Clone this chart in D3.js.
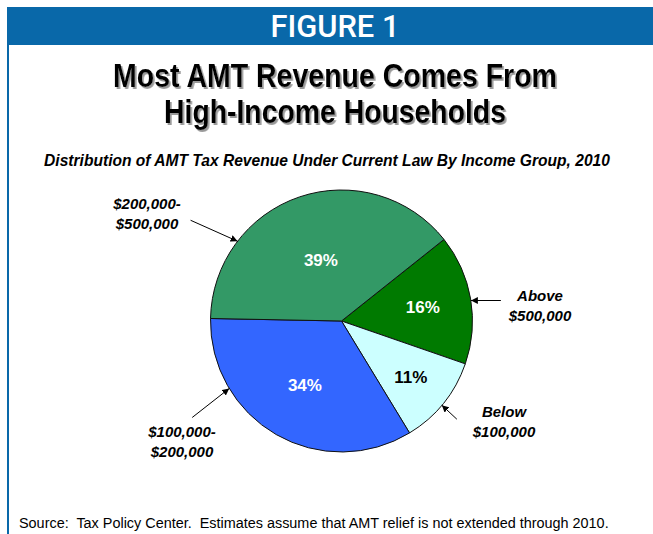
<!DOCTYPE html>
<html>
<head>
<meta charset="utf-8">
<script src="https://cdn.jsdelivr.net/npm/d3@7"></script>
<style>
  html, body { margin: 0; padding: 0; background: #fff; }
  svg { display: block; }
</style>
</head>
<body>
<svg id="chart" width="653" height="534"></svg>
<script>
// Income groups, in clockwise order starting at the upper right
const groups = ["Above $500,000", "Below $100,000", "$100,000-$200,000", "$200,000-$500,000"];
const shares = [16, 11, 34, 39];
const sliceColors = ["#007a00", "#ccffff", "#3366ff", "#339966"];
const pctColors = ["#ffffff", "#000000", "#ffffff", "#ffffff"];
// Callout label lines per group
const labelLines = [["Above", "$500,000"], ["Below", "$100,000"], ["$100,000-", "$200,000"], ["$200,000-", "$500,000"]];

const figureLabel = "FIGURE 1";
const titleLines = ["Most AMT Revenue Comes From", "High-Income Households"];
const subtitle = "Distribution of AMT Tax Revenue Under Current Law By Income Group, 2010";
const sourceNote = "Source:  Tax Policy Center.  Estimates assume that AMT relief is not extended through 2010.";

const svg = d3.select("#chart");
const W = 653, H = 534;
const blue = "#0968a9";
const sans = "Arial, 'Liberation Sans', sans-serif";

// Fit a text element to a target width by tuning its font size
function fitWidth(sel, target) {
  const node = sel.node();
  const fs = parseFloat(sel.attr("font-size"));
  const w = node.getComputedTextLength();
  if (w > 0) sel.attr("font-size", (fs * target / w).toFixed(2));
  return sel;
}
// Squeeze a text horizontally (condensed look) to a target width, keeping its height
function condense(g, sel, cx, y, target) {
  const w = sel.node().getComputedTextLength();
  const sx = w > 0 ? Math.min(1, target / w) : 1;
  g.attr("transform", `translate(${cx},${y}) scale(${sx},1)`);
}

const defs = svg.append("defs");
const shadow = defs.append("filter").attr("id", "shadow")
  .attr("x", "-5%").attr("y", "-20%").attr("width", "110%").attr("height", "150%");
shadow.append("feDropShadow")
  .attr("dx", 2).attr("dy", 2).attr("stdDeviation", 0.6)
  .attr("flood-color", "#808080").attr("flood-opacity", 0.8);

// Header band and left rule
svg.append("rect").attr("x", 7).attr("y", 7).attr("width", W - 7).attr("height", 38).attr("fill", blue);
svg.append("rect").attr("x", 7).attr("y", 44).attr("width", 2).attr("height", H - 44).attr("fill", blue);

const hg = svg.append("g");
const ht = hg.append("text")
  .attr("text-anchor", "middle")
  .attr("font-family", "Roboto, 'Liberation Sans', sans-serif")
  .attr("font-weight", 500)
  .attr("font-size", 31)
  .attr("fill", "#fff")
  .text(figureLabel);
condense(hg, ht, 335, 37, 129);

// Title, bold condensed with a drop shadow
const titleY = [87, 123];
const titleW = [444, 342];
titleLines.forEach((t, i) => {
  const tg = svg.append("g");
  const tt = tg.append("text")
    .attr("text-anchor", "middle")
    .attr("font-family", sans)
    .attr("font-weight", "bold")
    .attr("font-size", 33)
    .attr("fill", "#000")
    .attr("filter", "url(#shadow)")
    .text(t);
  condense(tg, tt, 335, titleY[i], titleW[i]);
});

fitWidth(svg.append("text")
  .attr("x", 327).attr("y", 166)
  .attr("text-anchor", "middle")
  .attr("font-family", sans)
  .attr("font-weight", "bold").attr("font-style", "italic")
  .attr("font-size", 14)
  .attr("fill", "#000")
  .text(subtitle), 566);

// Pie
const cx = 341.5, cy = 321, R = 131;
const startA = 51.5 * Math.PI / 180;
const pie = d3.pie().sort(null).value(d => d)
  .startAngle(startA).endAngle(startA + 2 * Math.PI);
const arcs = pie(shares);
const arc = d3.arc().innerRadius(0).outerRadius(R);
const g = svg.append("g").attr("transform", `translate(${cx},${cy})`);

g.selectAll("path.slice").data(arcs).join("path")
  .attr("class", "slice")
  .attr("d", arc)
  .attr("fill", (d, i) => sliceColors[i])
  .attr("stroke", "#111")
  .attr("stroke-width", 1)
  .attr("stroke-linejoin", "round");

// Percentage labels placed along each slice's bisector
const pctRadius = [0.63, 0.68, 0.56, 0.49];
g.selectAll("text.pct").data(arcs).join("text")
  .attr("class", "pct")
  .attr("transform", (d, i) => {
    const a = (d.startAngle + d.endAngle) / 2;
    const r = R * pctRadius[i];
    return `translate(${r * Math.sin(a)},${-r * Math.cos(a) + 6})`;
  })
  .attr("text-anchor", "middle")
  .attr("font-family", sans)
  .attr("font-weight", "bold")
  .attr("font-size", 17)
  .attr("fill", (d, i) => pctColors[i])
  .text(d => d.data + "%");

// Callouts: arrow tip sits on the rim at a given angle, tail points toward the label
defs.append("marker").attr("id", "ah")
  .attr("viewBox", "0 0 10 10").attr("refX", 10).attr("refY", 5)
  .attr("markerWidth", 7).attr("markerHeight", 7).attr("orient", "auto")
  .attr("markerUnits", "userSpaceOnUse")
  .append("path").attr("d", "M0,0 L10,5 L0,10 z").attr("fill", "#000");

const tipAngle = [81, 130, 239, 307.5];      // degrees clockwise from north
const tailOffset = [[30, 0], [15, 14], [-37, 29], [-47, -21]];
const labelPos = [[540, 301], [504, 417], [182, 437], [147, 209]];

arcs.forEach((d, i) => {
  const a = tipAngle[i] * Math.PI / 180;
  const tx = cx + R * Math.sin(a), ty = cy - R * Math.cos(a);
  svg.append("line")
    .attr("x1", tx + tailOffset[i][0]).attr("y1", ty + tailOffset[i][1])
    .attr("x2", tx).attr("y2", ty)
    .attr("stroke", "#000").attr("stroke-width", 1)
    .attr("marker-end", "url(#ah)");
  const t = svg.append("text")
    .attr("text-anchor", "middle")
    .attr("font-family", sans)
    .attr("font-weight", "bold").attr("font-style", "italic")
    .attr("font-size", 15)
    .attr("fill", "#000");
  labelLines[i].forEach((ln, k) => {
    t.append("tspan").attr("x", labelPos[i][0]).attr("y", labelPos[i][1] + k * 20).text(ln);
  });
});

fitWidth(svg.append("text")
  .attr("x", 19).attr("y", 528)
  .attr("font-family", sans)
  .attr("font-size", 13)
  .style("white-space", "pre")
  .attr("fill", "#000")
  .text(sourceNote), 590);
</script>
</body>
</html>
